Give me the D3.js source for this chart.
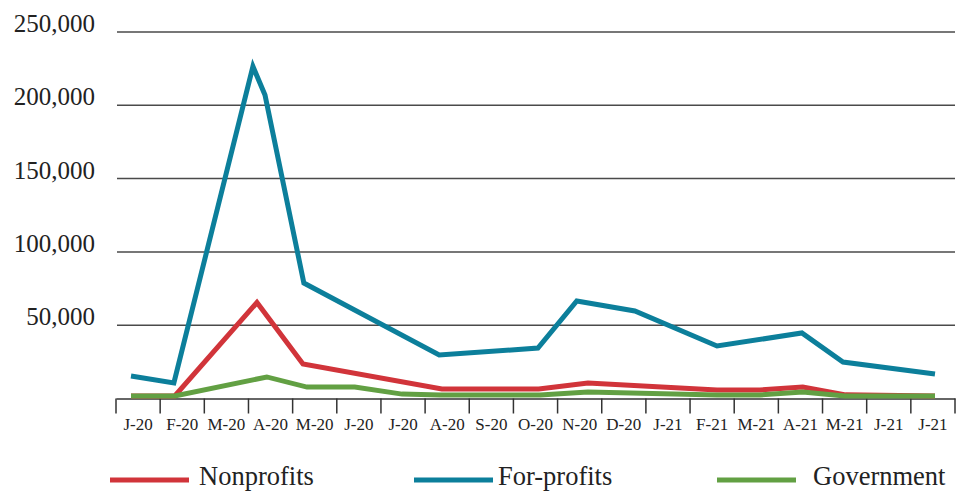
<!DOCTYPE html>
<html>
<head>
<meta charset="utf-8">
<script src="https://cdn.jsdelivr.net/npm/d3@7"></script>
<style>
  html, body { margin: 0; padding: 0; background: #fff; }
  svg { display: block; font-family: "Liberation Serif", "DejaVu Serif", serif; }
</style>
</head>
<body>
<div id="chart"></div>
<script>
// categories on the x axis
const months = ["J-20", "F-20", "M-20", "A-20", "M-20", "J-20", "J-20", "A-20", "S-20", "O-20",
  "N-20", "D-20", "J-21", "F-21", "M-21", "A-21", "M-21", "J-21", "J-21"];
const yTicks = [50000, 100000, 150000, 200000, 250000];

// series: position (month index) and value
const nonprofitsX = [0, 0.98, 2.82, 3.85, 6.96, 9.13, 10.23, 13.12, 14.08, 15.04, 16, 18];
const nonprofitsY = [1700, 1700, 65500, 23500, 6500, 6500, 10600, 5800, 5800, 7800, 2500, 1700];

const forProfitsX = [0, 0.96, 2.73, 3.0, 3.87, 6.9, 9.11, 9.98, 11.28, 13.12, 15.02, 15.94, 18];
const forProfitsY = [15300, 10600, 226500, 207000, 78800, 29700, 34400, 66500, 59700, 35800, 44700, 24900, 16700];

const governmentX = [0, 0.98, 3.04, 3.94, 5.01, 6.07, 6.92, 9.16, 10.23, 13.12, 14.08, 15.04, 15.98, 18];
const governmentY = [1700, 1700, 14700, 7800, 7800, 3000, 2400, 2400, 4400, 2400, 2400, 4400, 1700, 1700];

const series = [
  { name: "Nonprofits", xs: nonprofitsX, ys: nonprofitsY, color: "#d1343a" },
  { name: "For-profits", xs: forProfitsX, ys: forProfitsY, color: "#0c7f9b" },
  { name: "Government", xs: governmentX, ys: governmentY, color: "#62a043" }
];

const width = 964, height = 491;
const plotLeft = 116, plotRight = 955, plotTop = 32, plotBottom = 398.5;

const svg = d3.select("#chart").append("svg")
  .attr("width", width)
  .attr("height", height);

const y = d3.scaleLinear().domain([0, 250000]).range([plotBottom, plotTop]);
const xBand = d3.scaleBand().domain(d3.range(months.length)).range([plotLeft, plotRight]);
const x = d3.scaleLinear().domain([0, months.length - 1]).range([131, 935]);

// gridlines + y labels
svg.append("g").selectAll("line")
  .data(yTicks).enter().append("line")
  .attr("x1", plotLeft + 1).attr("x2", plotRight)
  .attr("y1", d => y(d)).attr("y2", d => y(d))
  .attr("stroke", "#4a4a4a").attr("stroke-width", 1.5);

svg.append("g").selectAll("text")
  .data(yTicks).enter().append("text")
  .attr("x", 95).attr("y", d => y(d))
  .attr("text-anchor", "end")
  .attr("font-size", "25px").attr("fill", "#222")
  .text(d3.format(","));

// x axis
const xAxis = svg.append("g")
  .attr("transform", `translate(0,${plotBottom})`)
  .call(d3.axisBottom(xBand).tickSize(0).tickFormat(i => months[i]));
xAxis.select(".domain").attr("stroke", "#333").attr("stroke-width", 1.5);
xAxis.selectAll("text")
  .attr("font-size", "17px").attr("fill", "#222")
  .attr("font-family", "Liberation Serif, serif")
  .attr("y", 31).attr("dy", 0);

svg.append("g").selectAll("line")
  .data(d3.range(months.length + 1)).enter().append("line")
  .attr("x1", i => plotLeft + i * xBand.step()).attr("x2", i => plotLeft + i * xBand.step())
  .attr("y1", plotBottom).attr("y2", plotBottom + 15)
  .attr("stroke", "#333").attr("stroke-width", 1.5);

// lines
const line = d3.line().x(d => x(d[0])).y(d => y(d[1]));
series.forEach(s => {
  svg.append("path")
    .datum(s.xs.map((v, i) => [v, s.ys[i]]))
    .attr("fill", "none")
    .attr("stroke", s.color)
    .attr("stroke-width", 5)
    .attr("stroke-linejoin", "miter")
    .attr("d", line);
});

// legend
const legendX = [110, 414, 717];
const legendText = [199, 498, 813];
const legend = svg.append("g");
series.forEach((s, i) => {
  legend.append("line")
    .attr("x1", legendX[i]).attr("x2", legendX[i] + 79)
    .attr("y1", 480).attr("y2", 480)
    .attr("stroke", s.color).attr("stroke-width", 5);
  legend.append("text")
    .attr("x", legendText[i]).attr("y", 485)
    .attr("font-size", "26.5px").attr("fill", "#222")
    .text(s.name);
});
</script>
</body>
</html>
